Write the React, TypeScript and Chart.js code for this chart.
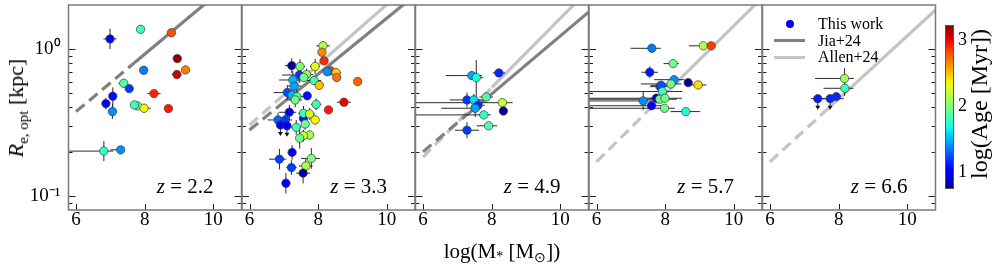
import React, { useEffect, useRef } from "react";
import { Chart, registerables } from "chart.js";

Chart.register(...registerables);

const W = 997;
const H = 267;
const SERIF = "'Liberation Serif', 'Times New Roman', Times, serif";

// ---------- axes ----------
const massRange = [5.78, 10.82];
const radiusRange = [0.0803, 1.99];
const ageRange = [0.74, 3.23];
const massTicks = [6, 8, 10];
const radiusTicks = [0.1, 1];
const radiusTickLabels = ["10⁻¹", "10⁰"];
const radiusMinorTicks = [0.09, 0.2, 0.3, 0.4, 0.5, 0.6, 0.7, 0.8, 0.9];
const ageTicks = [1, 2, 3];
const redshifts = ["2.2", "3.3", "4.9", "5.7", "6.6"];

// ---------- data ----------
// rows: [log M*, Re (kpc), log Age, massErrLo, massErrHi, reErrLoDex, reErrHiDex, upperLimit]
const pointsZ22 = [
  [6.99, 1.17, 1.01, 0.19, 0.19, 0.07, 0.07, 0],
  [7.88, 1.36, 1.8, 0.05, 0.05, 0.02, 0.02, 0],
  [8.78, 1.29, 2.8, 0.05, 0.05, 0.02, 0.02, 0],
  [8.95, 0.86, 3.2, 0.05, 0.05, 0.02, 0.02, 0],
  [9.19, 0.72, 2.68, 0.05, 0.05, 0.02, 0.02, 0],
  [8.94, 0.67, 3.05, 0.15, 0.1, 0.02, 0.02, 0],
  [7.97, 0.716, 1.36, 0.05, 0.05, 0.02, 0.02, 0],
  [7.39, 0.584, 1.85, 0.15, 0.1, 0.03, 0.03, 0],
  [7.55, 0.537, 1.2, 0.05, 0.05, 0.02, 0.02, 0],
  [8.27, 0.497, 2.92, 0.19, 0.19, 0.02, 0.02, 0],
  [7.07, 0.477, 1.08, 0.05, 0.05, 0.1, 0.06, 0],
  [6.87, 0.425, 1.0, 0.1, 0.1, 0.04, 0.04, 0],
  [7.79, 0.41, 1.95, 0.05, 0.05, 0.02, 0.02, 0],
  [7.7, 0.416, 1.8, 0.1, 0.05, 0.02, 0.02, 0],
  [7.98, 0.395, 2.35, 0.19, 0.19, 0.03, 0.03, 0],
  [8.69, 0.393, 2.95, 0.05, 0.05, 0.02, 0.02, 0],
  [7.06, 0.375, 1.4, 0.12, 0.12, 0.05, 0.05, 0],
  [6.81, 0.202, 1.75, 1.2, 0.27, 0.068, 0.068, 0],
  [7.3, 0.206, 1.4, 0.3, 0.05, 0.02, 0.02, 0],
];
const pointsZ33 = [
  [8.14, 1.05, 2.15, 0.2, 0.2, 0.03, 0.03, 0],
  [8.11, 0.95, 2.65, 0.05, 0.05, 0.02, 0.02, 0],
  [8.17, 0.83, 2.9, 0.05, 0.05, 0.02, 0.02, 0],
  [7.23, 0.77, 0.8, 0.2, 0.2, 0.05, 0.05, 0],
  [7.47, 0.76, 2.0, 0.15, 0.15, 0.05, 0.05, 0],
  [7.91, 0.76, 2.3, 0.15, 0.15, 0.05, 0.05, 0],
  [8.36, 0.71, 2.85, 0.1, 0.1, 0.02, 0.02, 0],
  [8.26, 0.7, 1.4, 0.1, 0.1, 0.02, 0.02, 0],
  [8.52, 0.69, 2.45, 0.15, 0.15, 0.03, 0.03, 0],
  [8.54, 0.64, 2.7, 0.05, 0.05, 0.02, 0.02, 0],
  [7.45, 0.665, 1.18, 0.5, 0.2, 0.05, 0.05, 0],
  [7.66, 0.67, 2.05, 0.2, 0.2, 0.04, 0.04, 0],
  [7.58, 0.64, 1.95, 0.1, 0.1, 0.03, 0.03, 0],
  [7.88, 0.61, 1.8, 0.2, 0.2, 0.03, 0.03, 0],
  [7.26, 0.615, 1.5, 0.4, 0.2, 0.06, 0.06, 0],
  [8.03, 0.566, 2.5, 0.1, 0.1, 0.03, 0.03, 0],
  [7.3, 0.56, 1.45, 0.2, 0.2, 0.1, 0.05, 0],
  [7.1, 0.505, 1.25, 0.4, 0.2, 0.05, 0.05, 0],
  [7.68, 0.48, 1.08, 0.1, 0.1, 0.02, 0.02, 0],
  [7.24, 0.486, 1.5, 0.2, 0.2, 0.05, 0.05, 0],
  [7.38, 0.474, 1.85, 0.2, 0.2, 0.05, 0.05, 0],
  [9.15, 0.6, 2.75, 0.05, 0.05, 0.02, 0.02, 0],
  [8.75, 0.434, 3.0, 0.2, 0.2, 0.02, 0.02, 0],
  [8.3, 0.385, 2.95, 0.05, 0.05, 0.02, 0.02, 0],
  [7.94, 0.42, 1.8, 0.15, 0.15, 0.04, 0.04, 0],
  [7.33, 0.45, 1.95, 0.2, 0.2, 0.05, 0.05, 0],
  [7.16, 0.371, 1.0, 0.3, 0.2, 0.05, 0.05, 0],
  [6.83, 0.329, 1.3, 0.3, 0.2, 0.05, 0.05, 0],
  [7.04, 0.329, 1.2, 0.2, 0.2, 0.05, 0.05, 0],
  [6.9, 0.304, 1.0, 0.1, 0.1, 0, 0, 1],
  [7.09, 0.3, 1.05, 0.1, 0.1, 0, 0, 1],
  [7.57, 0.337, 1.1, 0.1, 0.1, 0.05, 0.05, 0],
  [7.57, 0.365, 1.8, 0.15, 0.15, 0.05, 0.05, 0],
  [7.75, 0.361, 2.25, 0.15, 0.15, 0.04, 0.04, 0],
  [7.91, 0.329, 2.35, 0.1, 0.1, 0.03, 0.03, 0],
  [7.62, 0.309, 1.95, 0.1, 0.1, 0.04, 0.04, 0],
  [7.36, 0.293, 1.8, 0.15, 0.15, 0.05, 0.05, 0],
  [7.75, 0.26, 2.1, 0.1, 0.1, 0.03, 0.03, 0],
  [7.57, 0.257, 2.2, 0.15, 0.1, 0.04, 0.04, 0],
  [7.46, 0.247, 1.95, 0.1, 0.1, 0.07, 0.07, 0],
  [7.24, 0.198, 1.05, 0.1, 0.1, 0.05, 0.05, 0],
  [6.87, 0.178, 1.2, 0.3, 0.2, 0.07, 0.07, 0],
  [7.8, 0.18, 2.0, 0.3, 0.25, 0.07, 0.07, 0],
  [7.64, 0.16, 2.15, 0.2, 0.2, 0.05, 0.05, 0],
  [7.22, 0.156, 1.2, 0.15, 0.15, 0.05, 0.05, 0],
  [7.56, 0.143, 0.78, 0.2, 0.2, 0.07, 0.07, 0],
  [7.06, 0.122, 1.0, 0.1, 0.1, 0.07, 0.07, 0],
];
const pointsZ49 = [
  [8.21, 0.687, 1.15, 0.18, 0.18, 0.02, 0.02, 0],
  [7.42, 0.659, 1.45, 0.76, 0.3, 0.03, 0.03, 0],
  [7.55, 0.638, 1.7, 0.2, 0.2, 0.15, 0.12, 0],
  [7.28, 0.45, 1.18, 0.5, 0.5, 0.05, 0.05, 0],
  [7.48, 0.45, 1.6, 0.2, 0.2, 0.04, 0.04, 0],
  [7.84, 0.471, 1.85, 0.2, 0.2, 0.03, 0.03, 0],
  [8.31, 0.431, 2.2, 2.7, 0.3, 0.02, 0.02, 0],
  [7.6, 0.414, 1.15, 0.2, 0.2, 0.03, 0.03, 0],
  [7.52, 0.395, 1.45, 0.99, 0.1, 0.06, 0.06, 0],
  [8.34, 0.378, 0.8, 0.05, 0.05, 0.02, 0.02, 0],
  [7.77, 0.356, 1.75, 2.1, 0.2, 0.02, 0.02, 0],
  [7.91, 0.3, 1.85, 0.35, 0.25, 0.02, 0.02, 0],
  [7.28, 0.28, 1.2, 0.35, 0.35, 0.055, 0.055, 0],
];
const pointsZ57 = [
  [7.61, 1.01, 1.35, 0.62, 0.26, 0.03, 0.03, 0],
  [9.11, 1.05, 2.15, 0.42, 0.05, 0.02, 0.02, 0],
  [9.34, 1.05, 2.85, 0.05, 0.05, 0.02, 0.02, 0],
  [8.23, 0.795, 1.95, 0.28, 0.17, 0.02, 0.02, 0],
  [7.55, 0.694, 1.1, 0.24, 0.24, 0.04, 0.04, 0],
  [8.26, 0.618, 1.4, 0.58, 0.3, 0.02, 0.02, 0],
  [8.67, 0.59, 0.78, 0.1, 0.1, 0.02, 0.02, 0],
  [8.96, 0.569, 2.42, 0.24, 0.24, 0.02, 0.02, 0],
  [8.17, 0.578, 1.95, 0.88, 0.3, 0.02, 0.02, 0],
  [7.85, 0.554, 1.2, 0.3, 0.3, 0.03, 0.03, 0],
  [7.88, 0.566, 1.25, 0.3, 0.3, 0.03, 0.03, 0],
  [7.92, 0.513, 1.8, 2.5, 0.58, 0.02, 0.02, 0],
  [7.74, 0.462, 0.95, 0.2, 0.2, 0.03, 0.03, 0],
  [7.84, 0.455, 1.95, 2.5, 0.5, 0.02, 0.02, 0],
  [7.99, 0.462, 1.95, 2.5, 0.5, 0.02, 0.02, 0],
  [7.36, 0.443, 1.4, 2.0, 0.3, 0.06, 0.06, 0],
  [7.6, 0.411, 1.05, 2.2, 0.3, 0.02, 0.02, 0],
  [7.98, 0.395, 1.95, 2.5, 0.3, 0.02, 0.02, 0],
  [8.6, 0.375, 1.7, 0.44, 0.42, 0.02, 0.02, 0],
];
const pointsZ66 = [
  [8.17, 0.63, 2.1, 0.86, 0.27, 0.12, 0.07, 0],
  [8.18, 0.54, 1.8, 0.62, 0.25, 0.03, 0.03, 0],
  [7.93, 0.474, 1.15, 0.05, 0.05, 0, 0, 0],
  [7.75, 0.459, 1.15, 0.3, 0.4, 0, 0, 1],
  [7.39, 0.459, 1.12, 0.2, 0.2, 0, 0, 1],
];

// size–mass relations: [start, dashed→solid break, end] as [log M*, Re]
const jiaZ22 = [[6, 0.375], [7.7, 0.805], [10, 2.26]];
const jiaZ33 = [[6, 0.281], [7.0, 0.435], [11, 2.51]];
const allenZ33 = [[6, 0.304], [7.0, 0.487], [10.5, 2.54]];
const jiaZ49 = [[6, 0.2], [7.25, 0.352], [10.82, 1.78]];
const allenZ49 = [[6, 0.184], [8.0, 0.546], [10.5, 2.12]];
const allenZ57 = [[6, 0.171], [7.5, 0.38], [10.8, 2.2]];
const allenZ66 = [[6, 0.171], [7.6, 0.376], [10.82, 1.84]];

const JIA_COLOR = "#808080";
const ALLEN_COLOR = "#c4c4c4";

const PANELS = [
  { points: pointsZ22, lines: [{ verts: jiaZ22, color: JIA_COLOR, order: 1 }] },
  { points: pointsZ33, lines: [{ verts: jiaZ33, color: JIA_COLOR, order: 1 }, { verts: allenZ33, color: ALLEN_COLOR, order: 2 }] },
  { points: pointsZ49, lines: [{ verts: jiaZ49, color: JIA_COLOR, order: 1 }, { verts: allenZ49, color: ALLEN_COLOR, order: 2 }] },
  { points: pointsZ57, lines: [{ verts: allenZ57, color: ALLEN_COLOR, order: 2 }] },
  { points: pointsZ66, lines: [{ verts: allenZ66, color: ALLEN_COLOR, order: 2 }] },
];

// ---------- layout ----------
const PANEL_LEFT = [68.5, 242, 415.5, 589, 762.5];
const PANEL_W = 173;
const PLOT_TOP = 5;
const PLOT_BOTTOM = 210;
const CB_LEFT = 945;
const CB_RIGHT = 954;
const CB_TOP = 25;
const CB_BOTTOM = 189;

// ---------- jet colormap ----------
const JET_R = [[0, 0], [0.35, 0], [0.66, 1], [0.89, 1], [1, 0.5]];
const JET_G = [[0, 0], [0.125, 0], [0.375, 1], [0.64, 1], [0.91, 0], [1, 0]];
const JET_B = [[0, 0.5], [0.11, 1], [0.34, 1], [0.65, 0], [1, 0]];
function interp(stops: number[][], t: number) {
  for (let i = 1; i < stops.length; i++) {
    if (t <= stops[i][0]) {
      const [x0, y0] = stops[i - 1];
      const [x1, y1] = stops[i];
      return y0 + ((y1 - y0) * (t - x0)) / (x1 - x0);
    }
  }
  return stops[stops.length - 1][1];
}
function jet(t: number) {
  const u = Math.max(0, Math.min(1, t));
  const r = Math.round(interp(JET_R, u) * 255);
  const g = Math.round(interp(JET_G, u) * 255);
  const b = Math.round(interp(JET_B, u) * 255);
  return `rgb(${r},${g},${b})`;
}
function ageColor(v: number) {
  return jet((v - ageRange[0]) / (ageRange[1] - ageRange[0]));
}

function noPad(s: any) {
  s.paddingTop = 0;
  s.paddingBottom = 0;
  s.paddingLeft = 0;
  s.paddingRight = 0;
}

function makePanelConfig(i: number): any {
  const panel = PANELS[i];
  const rows = panel.points;
  const left = PANEL_LEFT[i];
  const right = left + PANEL_W;

  const datasets: any[] = [
    {
      type: "scatter",
      data: rows.map((r) => ({ x: r[0], y: r[1] })),
      backgroundColor: rows.map((r) => ageColor(r[2])),
      borderColor: "#3a3a3a",
      borderWidth: 0.7,
      pointRadius: 4.2,
      pointHoverRadius: 4.2,
      order: 0,
    },
  ];
  panel.lines.forEach((ln) => {
    const v = ln.verts.map((p) => ({ x: p[0], y: p[1] }));
    datasets.push({
      type: "line",
      data: [v[0], v[1]],
      borderColor: ln.color,
      borderWidth: 3.2,
      borderDash: [11, 6],
      borderCapStyle: "butt",
      pointRadius: 0,
      fill: false,
      tension: 0,
      order: ln.order,
    });
    datasets.push({
      type: "line",
      data: [v[1], v[2]],
      borderColor: ln.color,
      borderWidth: 3.2,
      borderCapStyle: "butt",
      pointRadius: 0,
      fill: false,
      tension: 0,
      order: ln.order,
    });
  });

  const errorBars = {
    id: "errorBars" + i,
    beforeDatasetDraw(chart: any, args: any) {
      if (args.index !== 0) return;
      const xs = chart.scales.x;
      const ys = chart.scales.y;
      const ctx = chart.ctx;
      const a = chart.chartArea;
      ctx.save();
      ctx.beginPath();
      ctx.rect(a.left, a.top, a.right - a.left, a.bottom - a.top);
      ctx.clip();
      ctx.strokeStyle = "#2a2a2a";
      ctx.fillStyle = "#111";
      ctx.lineWidth = 1;
      rows.forEach((r) => {
        const [m, re, , xlo, xhi, ylo, yhi, ul] = r;
        const px = xs.getPixelForValue(m);
        const py = ys.getPixelForValue(re);
        ctx.beginPath();
        ctx.moveTo(xs.getPixelForValue(m - xlo), py);
        ctx.lineTo(xs.getPixelForValue(m + xhi), py);
        if (ylo || yhi) {
          ctx.moveTo(px, ys.getPixelForValue(re / Math.pow(10, ylo)));
          ctx.lineTo(px, ys.getPixelForValue(re * Math.pow(10, yhi)));
        }
        ctx.stroke();
        if (ul) {
          ctx.beginPath();
          ctx.moveTo(px, py);
          ctx.lineTo(px, py + 8);
          ctx.stroke();
          ctx.beginPath();
          ctx.moveTo(px - 2.5, py + 7);
          ctx.lineTo(px + 2.5, py + 7);
          ctx.lineTo(px, py + 11);
          ctx.closePath();
          ctx.fill();
        }
      });
      ctx.restore();
    },
  };

  const frame = {
    id: "frame" + i,
    afterDraw(chart: any) {
      const xs = chart.scales.x;
      const ys = chart.scales.y;
      const ctx = chart.ctx;
      const a = chart.chartArea;
      ctx.save();
      ctx.strokeStyle = "#222";
      ctx.lineWidth = 1;
      const hTick = (v: number, len: number) => {
        const y = Math.round(ys.getPixelForValue(v)) + 0.5;
        ctx.beginPath();
        ctx.moveTo(a.left, y);
        ctx.lineTo(a.left + len, y);
        ctx.moveTo(a.right, y);
        ctx.lineTo(a.right - len, y);
        ctx.stroke();
      };
      radiusTicks.forEach((v) => hTick(v, 7));
      radiusMinorTicks.forEach((v) => hTick(v, 4));
      massTicks.forEach((v) => {
        const x = Math.round(xs.getPixelForValue(v)) + 0.5;
        ctx.beginPath();
        ctx.moveTo(x, a.bottom);
        ctx.lineTo(x, a.bottom - 6);
        ctx.stroke();
      });
      ctx.strokeStyle = "#7a7a7a";
      ctx.lineWidth = 1.5;
      ctx.strokeRect(a.left, a.top, a.right - a.left, a.bottom - a.top);
      ctx.restore();
    },
  };

  return {
    type: "scatter",
    data: { datasets },
    options: {
      responsive: false,
      animation: false,
      devicePixelRatio: 1,
      events: [],
      layout: {
        padding: { left: i === 0 ? 0 : left, right: W - right, top: PLOT_TOP, bottom: 0 },
      },
      plugins: { legend: { display: false }, tooltip: { enabled: false } },
      scales: {
        x: {
          type: "linear",
          min: massRange[0],
          max: massRange[1],
          grid: { display: false, drawTicks: false },
          border: { display: false },
          ticks: {
            autoSkip: false,
            maxRotation: 0,
            minRotation: 0,
            padding: -1,
            color: "#000",
            font: { family: SERIF, size: 19 },
            callback: (v: number) => String(v),
          },
          afterBuildTicks: (s: any) => {
            s.ticks = massTicks.map((v) => ({ value: v }));
          },
          afterFit: (s: any) => {
            s.height = H - PLOT_BOTTOM;
            noPad(s);
          },
        },
        y: {
          type: "logarithmic",
          min: radiusRange[0],
          max: radiusRange[1],
          display: i === 0,
          grid: { display: false, drawTicks: false },
          border: { display: false },
          ticks: {
            autoSkip: false,
            padding: 8,
            color: "#000",
            font: { family: SERIF, size: 19 },
            callback: (v: number) => {
              const k = radiusTicks.findIndex((t) => Math.abs(t - v) < 1e-9);
              return k >= 0 ? radiusTickLabels[k] : "";
            },
          },
          afterBuildTicks: (s: any) => {
            s.ticks = radiusTicks.map((v) => ({ value: v }));
          },
          afterFit: (s: any) => {
            s.width = i === 0 ? left : 0;
            noPad(s);
          },
        },
      },
    },
    plugins: [errorBars, frame],
  };
}

function makeColorbarConfig(): any {
  const grad = {
    id: "cbGradient",
    beforeDatasetsDraw(chart: any) {
      const a = chart.chartArea;
      const ctx = chart.ctx;
      const g = ctx.createLinearGradient(0, a.bottom, 0, a.top);
      for (let k = 0; k <= 40; k++) g.addColorStop(k / 40, jet(k / 40));
      ctx.save();
      ctx.fillStyle = g;
      ctx.fillRect(a.left, a.top, a.right - a.left, a.bottom - a.top);
      ctx.restore();
    },
    afterDraw(chart: any) {
      const a = chart.chartArea;
      const ctx = chart.ctx;
      ctx.save();
      ctx.strokeStyle = "#555";
      ctx.lineWidth = 1;
      ctx.strokeRect(a.left + 0.5, a.top + 0.5, a.right - a.left - 1, a.bottom - a.top - 1);
      ctx.restore();
    },
  };
  return {
    type: "scatter",
    data: { datasets: [{ data: [], pointRadius: 0 }] },
    options: {
      responsive: false,
      animation: false,
      devicePixelRatio: 1,
      events: [],
      layout: { padding: { left: CB_LEFT, right: 0, top: CB_TOP, bottom: H - CB_BOTTOM } },
      plugins: { legend: { display: false }, tooltip: { enabled: false } },
      scales: {
        x: { display: false, min: 0, max: 1, afterFit: (s: any) => { s.height = 0; noPad(s); } },
        y: {
          type: "linear",
          position: "right",
          min: ageRange[0],
          max: ageRange[1],
          grid: { display: false, drawTicks: false },
          border: { display: false },
          ticks: {
            autoSkip: false,
            padding: 4,
            color: "#000",
            font: { family: SERIF, size: 18 },
            callback: (v: number) => String(v),
          },
          afterBuildTicks: (s: any) => {
            s.ticks = ageTicks.map((v) => ({ value: v }));
          },
          afterFit: (s: any) => {
            s.width = W - CB_RIGHT;
            noPad(s);
          },
        },
      },
    },
    plugins: [grad],
  };
}

const canvasStyle: React.CSSProperties = {
  position: "absolute",
  left: 0,
  top: 0,
  width: W,
  height: H,
};

export default function App() {
  const panelRefs = useRef<(HTMLCanvasElement | null)[]>([]);
  const cbRef = useRef<HTMLCanvasElement | null>(null);

  useEffect(() => {
    const charts: Chart[] = [];
    PANELS.forEach((_, i) => {
      const c = panelRefs.current[i];
      if (c) charts.push(new Chart(c, makePanelConfig(i)));
    });
    if (cbRef.current) charts.push(new Chart(cbRef.current, makeColorbarConfig()));
    return () => charts.forEach((c) => c.destroy());
  }, []);

  return (
    <div
      style={{
        position: "fixed",
        left: 0,
        top: 0,
        width: W,
        height: H,
        background: "#fff",
        overflow: "hidden",
        fontFamily: SERIF,
        color: "#000",
      }}
    >
      {PANELS.map((_, i) => (
        <canvas
          key={i}
          ref={(el) => {
            panelRefs.current[i] = el;
          }}
          width={W}
          height={H}
          style={canvasStyle}
        />
      ))}
      <canvas ref={cbRef} width={W} height={H} style={canvasStyle} />

      {redshifts.map((z, i) => (
        <div
          key={"z" + i}
          style={{
            position: "absolute",
            right: W - (PANEL_LEFT[i] + PANEL_W - 28),
            top: 176,
            fontSize: 21,
            lineHeight: "21px",
            whiteSpace: "nowrap",
          }}
        >
          <i>z</i> = {z}
        </div>
      ))}

      {/* y-axis title */}
      <div
        style={{
          position: "absolute",
          left: 16,
          top: 108,
          transform: "translate(-50%, -50%) rotate(-90deg)",
          whiteSpace: "nowrap",
          fontSize: 22,
          lineHeight: 1,
        }}
      >
        <i>R</i>
        <span style={{ fontSize: 15, position: "relative", top: 5 }}>e, opt</span> [kpc]
      </div>

      {/* x-axis title */}
      <div
        style={{
          position: "absolute",
          left: 502,
          top: 251,
          transform: "translate(-50%, -50%)",
          whiteSpace: "nowrap",
          fontSize: 21,
          lineHeight: 1,
        }}
      >
        log(M<span style={{ fontSize: 14, position: "relative", top: 3 }}>*</span> [M
        <span style={{ fontSize: 14, position: "relative", top: 4 }}>⊙</span>])
      </div>

      {/* colorbar title */}
      <div
        style={{
          position: "absolute",
          left: 979,
          top: 104,
          transform: "translate(-50%, -50%) rotate(-90deg)",
          whiteSpace: "nowrap",
          fontSize: 24,
          lineHeight: 1,
        }}
      >
        log(Age [Myr])
      </div>

      {/* legend */}
      <div
        style={{
          position: "absolute",
          left: 786,
          top: 20,
          width: 8,
          height: 8,
          borderRadius: 4,
          background: "#0000ff",
        }}
      />
      <div style={{ position: "absolute", left: 774, top: 39, width: 31, height: 3, background: JIA_COLOR }} />
      <div style={{ position: "absolute", left: 774, top: 55.5, width: 31, height: 3, background: ALLEN_COLOR }} />
      {["This work", "Jia+24", "Allen+24"].map((t, k) => (
        <div
          key={t}
          style={{
            position: "absolute",
            left: 818,
            top: [24, 40.5, 57][k] - 9,
            fontSize: 16,
            lineHeight: "18px",
            whiteSpace: "nowrap",
          }}
        >
          {t}
        </div>
      ))}
    </div>
  );
}
